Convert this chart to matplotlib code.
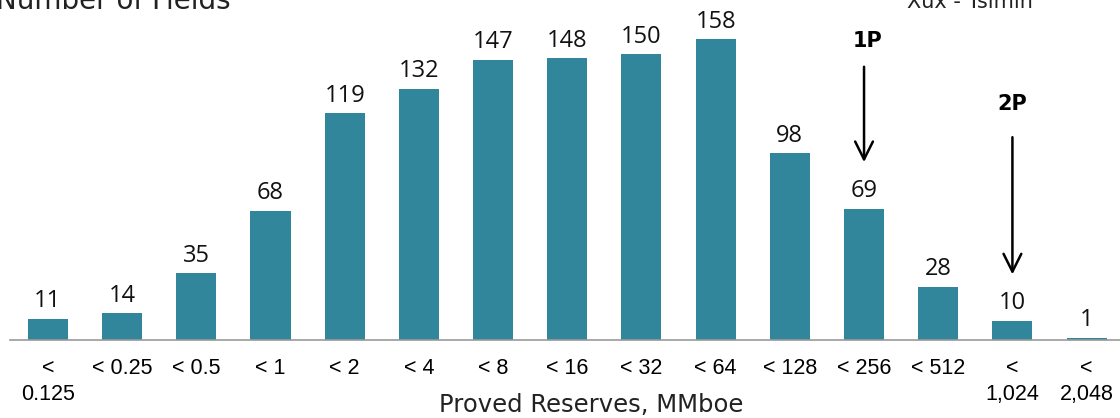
import matplotlib.pyplot as plt

categories = ['<\n0.125', '< 0.25', '< 0.5', '< 1', '< 2', '< 4', '< 8', '< 16',
              '< 32', '< 64', '< 128', '< 256', '< 512', '<\n1,024', '<\n2,048']
fields = [11, 14, 35, 68, 119, 132, 147, 148, 150, 158, 98, 69, 28, 10, 1]

teal = '#31869b'

fig = plt.figure(figsize=(11.2, 4.18), dpi=100)
ax = fig.add_axes([0.009, 0.1866, 0.991, 0.806])

x = range(len(fields))
bars = ax.bar(x, fields, width=0.54, color=teal)
for xi, v in zip(x, fields):
    ax.text(xi, v + 3, str(v), ha='center', va='bottom', fontsize=17,
            family='Open Sans', color='#111111')

ax.set_xlim(-0.51, 14.45)
ax.set_ylim(0, 177)
ax.set_xticks(list(x))
ax.set_xticklabels(categories, fontsize=15.5, family='Liberation Sans',
                   linespacing=1.3, va='top')
ax.tick_params(axis='x', length=0, pad=13)
ax.set_yticks([])
for s in ['top', 'right', 'left']:
    ax.spines[s].set_visible(False)
ax.spines['bottom'].set_color('#999999')
ax.spines['bottom'].set_linewidth(1.2)

# 1P / 2P markers
ax.text(11.05, 157, '1P', ha='center', va='center', fontsize=15, fontweight='bold')
ax.annotate('', xy=(11, 92), xytext=(11, 145),
            arrowprops=dict(arrowstyle='->', lw=1.8, color='black', mutation_scale=32))
ax.text(13, 124, '2P', ha='center', va='center', fontsize=15, fontweight='bold')
ax.annotate('', xy=(13, 33), xytext=(13, 108),
            arrowprops=dict(arrowstyle='->', lw=1.8, color='black', mutation_scale=32))

fig.text(-0.004, 0.997, 'Number of Fields', ha='left', va='center', fontsize=20,
         family='DejaVu Sans', color='#222222')
fig.text(0.866, 0.995, 'Xux - Tsimin', ha='center', va='center', fontsize=15,
         family='DejaVu Sans', color='#222222')
fig.text(0.528, 0.03, 'Proved Reserves, MMboe', ha='center', va='center', fontsize=17.5,
         family='DejaVu Sans', color='#222222')

fig.savefig('out.png', dpi=100)
